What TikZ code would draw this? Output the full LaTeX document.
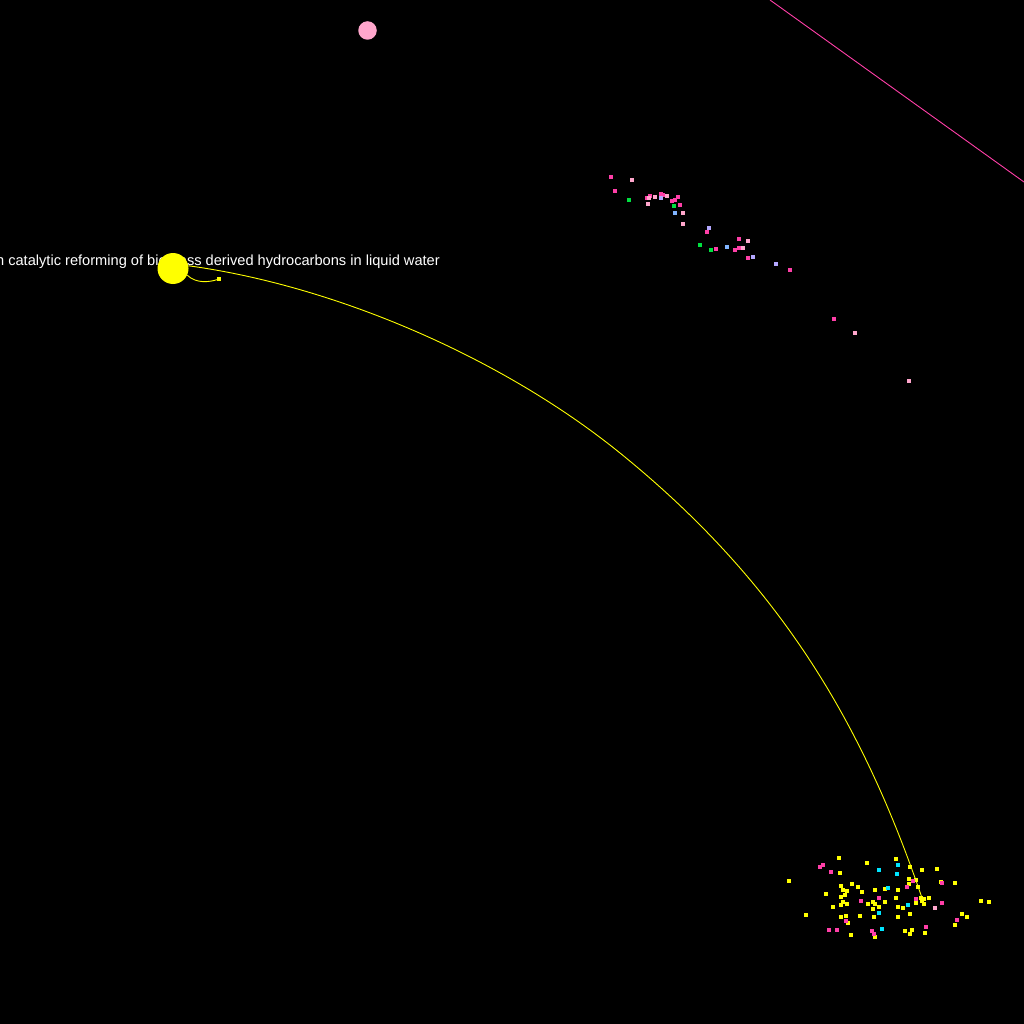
\documentclass[tikz,border=0pt]{standalone}
\usepackage{fontspec}
\setmainfont{Liberation Sans}
\definecolor{hpink}{HTML}{FF3FA8}
\definecolor{lpink}{HTML}{FFA6CC}
\definecolor{lav}{HTML}{B4A8FF}
\definecolor{lblue}{HTML}{80B4FF}
\definecolor{gren}{HTML}{00E040}
\definecolor{cyn}{HTML}{00E5FF}
\definecolor{yel}{HTML}{FFFF00}
\tikzset{
  dotmark/.style={rectangle,inner sep=0pt,minimum size=3.2pt,draw=none,fill=#1},
  bignode/.style={circle,inner sep=0pt,minimum size=#1,draw=none},
  lbl/.style={text=white,font=\fontsize{14.62}{16}\selectfont,inner sep=0pt}
}
\begin{document}
\begin{tikzpicture}[x=1pt,y=-1pt]
\useasboundingbox (0,0) rectangle (1024,1024);
\fill[black] (0,0) rectangle (1024,1024);
\clip (0,0) rectangle (1024,1024);
% label
\node[lbl,anchor=base east] (lab) at (440,265.5) {n catalytic reforming of biomass derived hydrocarbons in liquid water};
% pink line
\coordinate (pa) at (770,0);
\coordinate (pb) at (1024,182);
\draw[hpink,line width=0.9pt] (pa) -- (pb);
% upper cluster
\foreach \x/\y/\c [count=\i] in {611/177/hpink,632/180/lpink,615/191/hpink,629/200/gren,647/198/hpink,650/196/hpink,649/198/lpink,655/197/lpink,661/194/hpink,663/195/hpink,667/196/lpink,661/198/lav,678/197/hpink,675/200/hpink,672/201/hpink,680/205/hpink,674/206/gren,675/213/lblue,683/213/lpink,648/204/lpink,683/224/lpink,709/228/lav,707/232/hpink,700/245/gren,711/250/gren,716/249/hpink,727/247/lblue,739/239/hpink,748/241/lpink,739/248/hpink,743/248/lpink,735/250/hpink,748/258/hpink,753/257/lav,776/264/lav,790/270/hpink,834/319/hpink,855/333/lpink,909/381/lpink}
  \node[dotmark=\c] (u\i) at (\x,\y) {};
% lower cluster
\foreach \x/\y [count=\i] in {839/858,867/863,896/859,789/881,840/873,910/867,922/870,937/869,909/879,909/884,918/887,916/880,841/886,852/884,858/887,875/890,885/889,898/890,843/890,847/891,826/894,845/895,862/892,841/897,896/898,921/898,924/899,929/898,941/882,955/883,981/901,989/902,843/902,847/904,841/905,833/907,868/904,873/902,875/904,885/902,879/907,873/909,898/907,903/908,916/903,924/904,922/901,910/914,841/917,846/916,860/916,874/917,898/917,962/914,967/917,806/915,848/923,955/925,851/935,875/937,905/931,912/930,910/934,925/933}
  \node[dotmark=yel] (y\i) at (\x,\y) {};
\foreach \x/\y/\c [count=\i] in {820/867/hpink,823/865/hpink,831/872/hpink,861/901/hpink,879/898/hpink,846/921/hpink,829/930/hpink,837/930/hpink,872/931/hpink,874/934/hpink,907/887/hpink,913/881/hpink,942/883/hpink,942/903/hpink,916/899/hpink,957/920/hpink,926/927/hpink,935/908/lpink,898/865/cyn,879/870/cyn,897/874/cyn,888/888/cyn,908/905/cyn,879/913/cyn,882/929/cyn}
  \node[dotmark=\c] (c\i) at (\x,\y) {};
% pink node
\node[bignode=18.5pt,fill=lpink] (pk) at (367.5,30.5) {};
% yellow edges
\node[bignode=31pt,fill=yel] (hub) at (173,268.5) {};
\coordinate (cm) at (620,453);
\coordinate (ce) at (922,898);
\node[dotmark=yel] (sd) at (219,279) {};
\draw[yel,line width=0.9pt] (hub.10) .. controls (337,286) and (503.5,358.7) .. (cm) .. controls (783,585) and (864,727.5) .. (ce);
\draw[yel,line width=0.9pt] (hub.-25) .. controls (196,284) and (210,282) .. (sd);
\end{tikzpicture}
\end{document}
